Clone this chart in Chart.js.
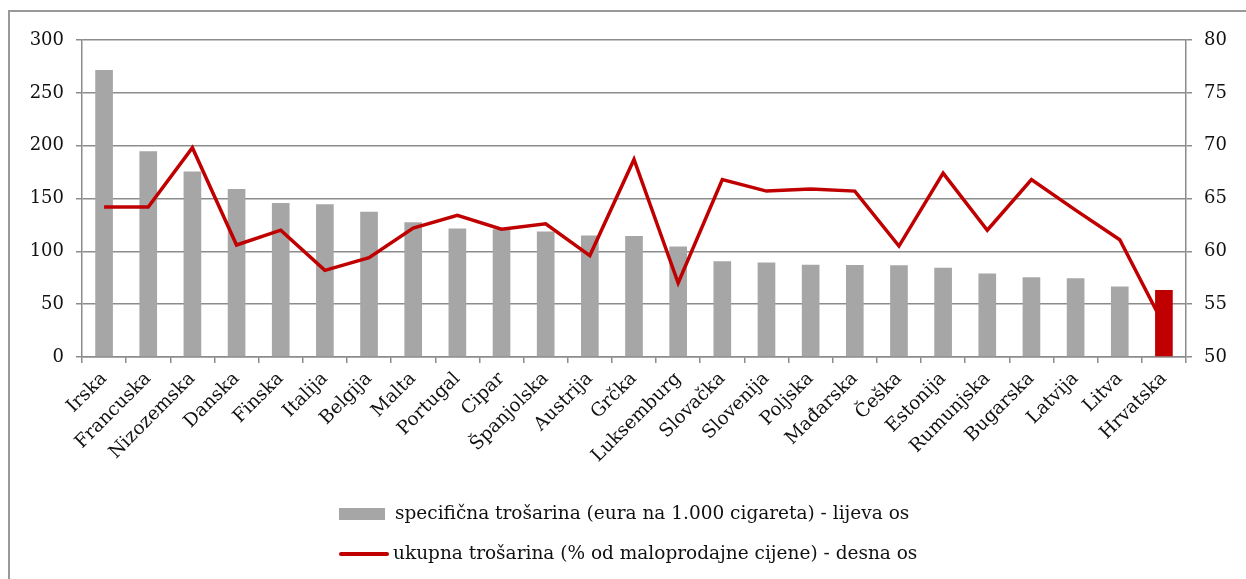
<!DOCTYPE html>
<html>
<head>
<meta charset="utf-8">
<script src="https://cdn.jsdelivr.net/npm/chart.js@4"></script>
<style>
  html, body { margin: 0; padding: 0; background: #fff; overflow: hidden; }
  #okvir { position: absolute; left: 8px; top: 10px; width: 1300px; height: 600px;
           border-left: 2px solid #999; border-top: 2px solid #999; }
  #graf { position: absolute; left: 0; top: 0; }
  .leg { position: absolute; left: 339px; height: 22px; line-height: 22px; font-family: "DejaVu Serif", serif;
         font-size: 18.5px; color: #111; white-space: nowrap; }
  .leg span { display: inline-block; vertical-align: middle; }
</style>
</head>
<body>
<div id="okvir"></div>
<canvas id="graf" width="1246" height="579"></canvas>
<div class="leg" style="top:502px"><span style="width:46px;height:12px;background:#A6A6A6;margin-right:10px"></span>specifična trošarina (eura na 1.000 cigareta) - lijeva os</div>
<div class="leg" style="top:542px"><span style="width:50px;height:4px;background:#C00000;border-radius:2px;margin-right:4px"></span>ukupna trošarina (% od maloprodajne cijene) - desna os</div>
<script>
const zemlje = ["Irska", "Francuska", "Nizozemska", "Danska", "Finska", "Italija", "Belgija", "Malta",
    "Portugal", "Cipar", "Španjolska", "Austrija", "Grčka", "Luksemburg", "Slovačka", "Slovenija",
    "Poljska", "Mađarska", "Češka", "Estonija", "Rumunjska", "Bugarska", "Latvija", "Litva", "Hrvatska"];

// eura na 1.000 cigareta (lijeva os)
const specificna = [271.5, 194.6, 175.5, 159, 145.7, 144.5, 137.5, 127.5, 121.5, 121, 118.7, 115, 114.5,
    104.5, 90.5, 89.5, 87.2, 87, 86.8, 84.5, 79, 75.5, 74.5, 66.7, 63.5];

// % od maloprodajne cijene (desna os)
const ukupna = [64.2, 64.2, 69.8, 60.6, 62.0, 58.2, 59.4, 62.2, 63.4, 62.1, 62.6, 59.6, 68.7,
    57.0, 66.8, 65.7, 65.9, 65.7, 60.5, 67.4, 62.0, 66.8, 63.9, 61.1, 53.0];

const lijeviTicks = [0, 50, 100, 150, 200, 250, 300];
const desniTicks = [50, 55, 60, 65, 70, 75, 80];

const siva = '#A6A6A6';
const crvena = '#C00000';
const linije = '#8c8c8c';

const bojeStupaca = zemlje.map(z => z === "Hrvatska" ? crvena : siva);

const ctx = document.getElementById('graf').getContext('2d');

new Chart(ctx, {
    type: 'bar',
    data: {
        labels: zemlje,
        datasets: [{
            type: 'line',
            label: 'ukupna trošarina (% od maloprodajne cijene) - desna os',
            data: ukupna,
            yAxisID: 'y1',
            borderColor: crvena,
            borderWidth: 3.5,
            pointRadius: 0,
            tension: 0,
            order: 0
        }, {
            label: 'specifična trošarina (eura na 1.000 cigareta) - lijeva os',
            data: specificna,
            yAxisID: 'y',
            backgroundColor: bojeStupaca,
            categoryPercentage: 1,
            barPercentage: 0.4,
            order: 1
        }]
    },
    options: {
        responsive: false,
        animation: false,
        layout: { padding: { top: 40, left: 0, right: 0, bottom: 0 } },
        plugins: { legend: { display: false }, tooltip: { enabled: false } },
        scales: {
            x: {
                grid: { offset: true, drawOnChartArea: false, color: linije, lineWidth: 1.5, tickLength: 6 },
                border: { color: linije, width: 1.5 },
                ticks: {
                    minRotation: 45, maxRotation: 45, autoSkip: false, padding: 5,
                    color: '#111', font: { family: 'DejaVu Serif', size: 18.5 }
                },
                afterFit: s => { s.height = 222; }
            },
            y: {
                position: 'left',
                min: 0, max: 300,
                afterBuildTicks: s => { s.ticks = lijeviTicks.map(v => ({ value: v })); },
                grid: { color: linije, lineWidth: 1.5, tickLength: 6 },
                border: { color: linije, width: 1.5 },
                ticks: { padding: 12, color: '#111', font: { family: 'DejaVu Serif', size: 18 } },
                afterFit: s => { s.width = 82; }
            },
            y1: {
                position: 'right',
                min: 50, max: 80,
                afterBuildTicks: s => { s.ticks = desniTicks.map(v => ({ value: v })); },
                grid: { drawOnChartArea: false, color: linije, lineWidth: 1.5, tickLength: 6 },
                border: { color: linije, width: 1.5 },
                ticks: { padding: 12, color: '#111', font: { family: 'DejaVu Serif', size: 18 } },
                afterFit: s => { s.width = 60; }
            }
        }
    }
});
</script>
</body>
</html>
